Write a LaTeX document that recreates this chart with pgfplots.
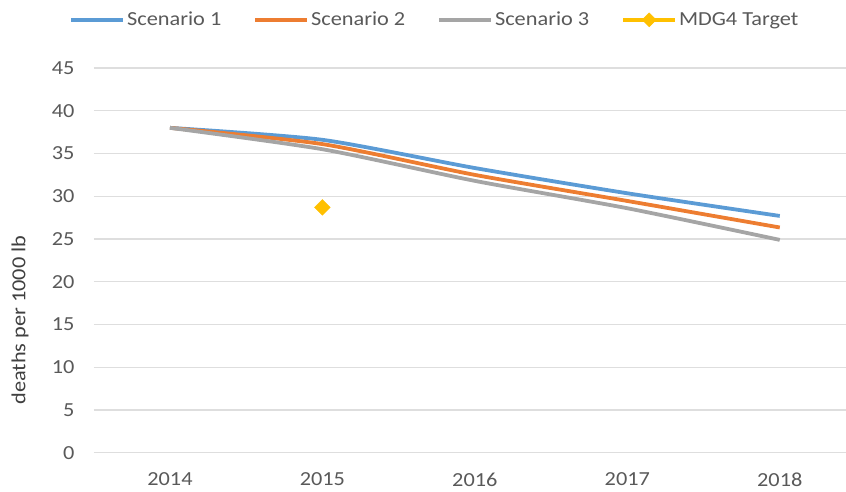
\documentclass[border=0pt]{standalone}
\usepackage{pgfplots}
\pgfplotsset{compat=1.18}
\usepackage{fontspec}
\setmainfont{Carlito}[FakeStretch=1.12]

\definecolor{sblue}{HTML}{5B9BD5}
\definecolor{sorange}{HTML}{ED7D31}
\definecolor{sgray}{HTML}{A5A5A5}
\definecolor{syellow}{HTML}{FFC000}
\definecolor{txt}{HTML}{595959}
\definecolor{gridc}{HTML}{DEDEDE}

\begin{document}
\begin{tikzpicture}
\begin{axis}[
    name=ax,
    scale only axis,
    width=762.5bp, height=385bp,
    xmin=2013.5, xmax=2018.5,
    ymin=0, ymax=45,
    xtick={2014,2015,2016,2017,2018},
    ytick={0,5,...,45},
    xticklabel style={/pgf/number format/set thousands separator={}},
    /pgf/number format/assume math mode=true,
    axis line style={draw=none},
    major tick length=0pt,
    xmajorgrids=false,
    ymajorgrids=true,
    major grid style={draw=gridc, line width=1.2bp},
    tick label style={font=\fontsize{20}{24}\selectfont, text=txt},
    xticklabel style={anchor=north, inner sep=0pt, yshift=-20bp},
    yticklabel style={anchor=east, inner sep=0pt, xshift=-19bp},
    ylabel={deaths per 1000 lb},
    ylabel style={at={(axis description cs:-0.0967,0.345)}, anchor=center,
        font=\fontsize{20}{24}\selectfont, text=black!75},
    legend columns=4,
    legend style={draw=none, fill=none, at={(axis description cs:0.4475,1.125)},
        anchor=center, font=\fontsize{20}{24}\selectfont, text=txt,
        inner sep=0pt, /tikz/every even column/.append style={column sep=30bp}},
    legend cell align=left,
    legend image code/.code={\draw[#1, mark=none] (0bp,0bp) -- (52bp,0bp);},
]

% scenarios
\addplot[sblue, line width=3.8bp, smooth, tension=0.4] coordinates {
    (2014,38.0) (2015,36.6) (2016,33.3) (2017,30.35) (2018,27.7)
};
\addlegendentry{Scenario 1}

\addplot[sorange, line width=3.8bp, smooth, tension=0.4] coordinates {
    (2014,38.0) (2015,36.1) (2016,32.5) (2017,29.45) (2018,26.35)
};
\addlegendentry{Scenario 2}

\addplot[sgray, line width=3.8bp, smooth, tension=0.4] coordinates {
    (2014,38.0) (2015,35.5) (2016,31.8) (2017,28.6) (2018,24.9)
};
\addlegendentry{Scenario 3}

% target
\addplot[only marks, mark=square*, mark size=5.6bp, syellow,
    mark options={fill=syellow, draw=syellow, rotate=45},
    legend image code/.code={
        \draw[syellow, line width=3.8bp] (0bp,0bp) -- (52bp,0bp);
        \fill[syellow] (26bp,7bp) -- (33bp,0bp) -- (26bp,-7bp) -- (19bp,0bp) -- cycle;}
] coordinates {
    (2015,28.7)
};
\addlegendentry{MDG4 Target}

\end{axis}
\pgfresetboundingbox
\path ([xshift=-93.75bp, yshift=-39bp]ax.south west) rectangle ([xshift=-10bp, yshift=68bp]ax.north east);
\end{tikzpicture}
\end{document}
